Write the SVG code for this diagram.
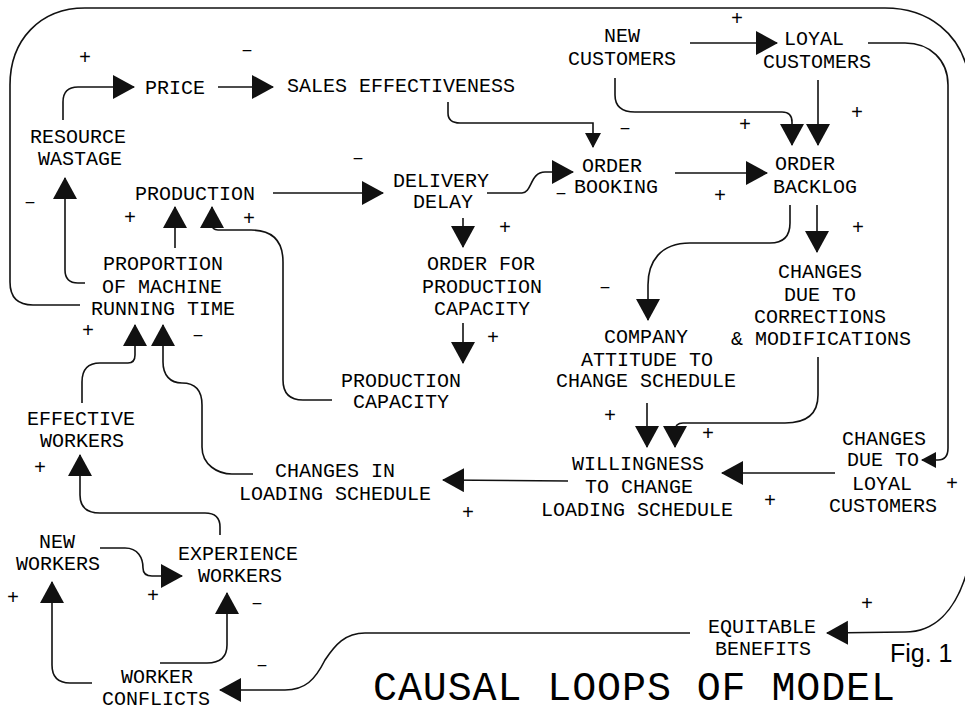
<svg xmlns="http://www.w3.org/2000/svg" width="965" height="711" viewBox="0 0 965 711">
<style>
  text { font-family: "Liberation Mono", "DejaVu Sans Mono", monospace; font-size: 20px; fill: #000; }
  .n text { text-anchor: middle; }
  .s { text-anchor: middle; font-size: 20px; }
  .c path { fill: none; stroke: #111; stroke-width: 1.6; marker-end: url(#ah); }
  .c path.sm { marker-end: url(#ahs); }
  .title { font-size: 40px; }
  .fig { font-family: "Liberation Sans", Arial, sans-serif; font-size: 25px; }
</style>
<defs>
  <marker id="ah" markerUnits="userSpaceOnUse" markerWidth="24" markerHeight="26" refX="21" refY="12" orient="auto" viewBox="0 0 24 26">
    <path d="M0,0 L22,12 L0,24 Z" fill="#111"/>
  </marker>
  <marker id="ahs" markerUnits="userSpaceOnUse" markerWidth="16" markerHeight="18" refX="14" refY="8" orient="auto" viewBox="0 0 16 18">
    <path d="M0,0 L15,8 L0,16 Z" fill="#111"/>
  </marker>
</defs>
<rect width="965" height="711" fill="#fff"/>

<g id="connectors" class="c">
  <path d="M63 120 L63 102 Q63 87 78 87 L134 87"/>
  <path d="M218 87 L273 87"/>
  <path d="M273 193 L383 193"/>
  <path d="M487 193 L522 193 C532 193 530 172 545 172 L573 172"/>
  <path class="sm" d="M448 102 L448 113 Q448 123 460 123 L593 123 L593 147"/>
  <path d="M615 78 L615 95 Q615 112 635 112 L782 112 Q792 112 792 122 L792 145"/>
  <path d="M818 80 L818 145"/>
  <path d="M690 43 L777 43"/>
  <path d="M675 173 L767 173"/>
  <path d="M790 205 L790 223 Q790 243 770 243 L690 243 C660 243 648 262 648 285 L648 320"/>
  <path d="M817 205 L817 252"/>
  <path d="M463 218 L463 247"/>
  <path d="M463 323 L463 363"/>
  <path d="M332 400 L303 400 Q283 400 283 380 L283 262 Q283 230 251 230 L218 230 Q212 230 212 224 L212 207"/>
  <path d="M175 248 L175 207"/>
  <path d="M85 283 L78 283 Q65 283 65 270 L65 178"/>
  <path d="M80 305 L33 305 Q10 305 10 282 L10 85 C10 40 40 8 85 8 L885 8 C930 8 960 35 968 72 L985 150 L985 500 L966 575 C955 610 935 632 905 632 L827 633"/>
  <path class="sm" d="M868 43 L905 43 C930 43 948 60 948 85 L948 448 Q948 460 938 460 L922 460"/>
  <path d="M835 473 L722 473"/>
  <path d="M647 403 L647 447"/>
  <path d="M818 357 L818 395 C818 415 805 423 785 423 L683 423 Q675 423 675 431 L675 447"/>
  <path d="M568 481 L443 480"/>
  <path d="M253 474 L232 474 C218 474 202 465 202 447 L202 405 C202 390 195 383 182 383 C170 383 163 375 163 362 L163 325"/>
  <path d="M82 403 L82 382 Q82 363 100 363 L128 363 Q135 363 135 355 L135 325"/>
  <path d="M220 535 L220 527 Q220 513 205 513 L100 513 Q80 513 80 495 L80 455"/>
  <path d="M100 548 L125 548 C138 548 143 558 143 568 Q143 576 152 576 L182 576"/>
  <path d="M92 683 L70 683 Q52 683 52 665 L52 582"/>
  <path d="M160 663 L207 663 Q227 663 227 645 L227 593"/>
  <path d="M690 633 L365 633 C345 633 335 645 325 660 C315 680 305 690 285 690 L220 690"/>
</g>

<g id="polarities">
  <text class="s" x="85" y="64">+</text>
  <text class="s" x="247" y="56">–</text>
  <text class="s" x="30" y="208">–</text>
  <text class="s" x="130" y="224">+</text>
  <text class="s" x="249" y="225">+</text>
  <text class="s" x="358" y="164">–</text>
  <text class="s" x="561" y="199">–</text>
  <text class="s" x="625" y="134">–</text>
  <text class="s" x="745" y="131">+</text>
  <text class="s" x="857" y="119">+</text>
  <text class="s" x="737" y="25">+</text>
  <text class="s" x="720" y="202">+</text>
  <text class="s" x="505" y="234">+</text>
  <text class="s" x="493" y="344">+</text>
  <text class="s" x="858" y="234">+</text>
  <text class="s" x="605" y="293">–</text>
  <text class="s" x="610" y="422">+</text>
  <text class="s" x="708" y="440">+</text>
  <text class="s" x="88" y="337">+</text>
  <text class="s" x="198" y="341">–</text>
  <text class="s" x="40" y="474">+</text>
  <text class="s" x="13" y="604">+</text>
  <text class="s" x="153" y="602">+</text>
  <text class="s" x="257" y="609">–</text>
  <text class="s" x="262" y="671">–</text>
  <text class="s" x="468" y="519">+</text>
  <text class="s" x="770" y="507">+</text>
  <text class="s" x="952" y="490">+</text>
  <text class="s" x="867" y="610">+</text>
</g>

<g id="price" class="n"><text x="175" y="94">PRICE</text></g>
<g id="sales-effectiveness" class="n"><text x="401" y="92">SALES EFFECTIVENESS</text></g>
<g id="resource-wastage" class="n"><text x="78" y="143">RESOURCE</text><text x="80" y="165">WASTAGE</text></g>
<g id="production" class="n"><text x="195" y="200">PRODUCTION</text></g>
<g id="delivery-delay" class="n"><text x="441" y="187">DELIVERY</text><text x="443" y="208">DELAY</text></g>
<g id="order-booking" class="n"><text x="612" y="172">ORDER</text><text x="616" y="193">BOOKING</text></g>
<g id="new-customers" class="n"><text x="622" y="42">NEW</text><text x="622" y="65">CUSTOMERS</text></g>
<g id="loyal-customers" class="n"><text x="814" y="45">LOYAL</text><text x="817" y="68">CUSTOMERS</text></g>
<g id="order-backlog" class="n"><text x="805" y="170">ORDER</text><text x="815" y="193">BACKLOG</text></g>
<g id="changes-corrections" class="n"><text x="820" y="278">CHANGES</text><text x="820" y="301">DUE TO</text><text x="820" y="323">CORRECTIONS</text><text x="821" y="345">&amp; MODIFICATIONS</text></g>
<g id="company-attitude" class="n"><text x="646" y="343">COMPANY</text><text x="647" y="366">ATTITUDE TO</text><text x="646" y="387">CHANGE SCHEDULE</text></g>
<g id="order-for-capacity" class="n"><text x="481" y="270">ORDER FOR</text><text x="482" y="293">PRODUCTION</text><text x="482" y="315">CAPACITY</text></g>
<g id="production-capacity" class="n"><text x="401" y="387">PRODUCTION</text><text x="401" y="408">CAPACITY</text></g>
<g id="machine-running-time" class="n"><text x="163" y="270">PROPORTION</text><text x="162" y="293">OF MACHINE</text><text x="163" y="315">RUNNING TIME</text></g>
<g id="effective-workers" class="n"><text x="81" y="425">EFFECTIVE</text><text x="82" y="447">WORKERS</text></g>
<g id="changes-loading" class="n"><text x="335" y="477">CHANGES IN</text><text x="335" y="500">LOADING SCHEDULE</text></g>
<g id="willingness" class="n"><text x="638" y="470">WILLINGNESS</text><text x="639" y="493">TO CHANGE</text><text x="637" y="516">LOADING SCHEDULE</text></g>
<g id="changes-loyal" class="n"><text x="884" y="445">CHANGES</text><text x="883" y="466">DUE TO</text><text x="882" y="490">LOYAL</text><text x="883" y="512">CUSTOMERS</text></g>
<g id="new-workers" class="n"><text x="57" y="548">NEW</text><text x="58" y="570">WORKERS</text></g>
<g id="experience-workers" class="n"><text x="238" y="560">EXPERIENCE</text><text x="240" y="582">WORKERS</text></g>
<g id="worker-conflicts" class="n"><text x="157" y="683">WORKER</text><text x="156" y="705">CONFLICTS</text></g>
<g id="equitable-benefits" class="n"><text x="762" y="633">EQUITABLE</text><text x="763" y="655">BENEFITS</text></g>

<g id="caption">
  <text class="title" x="373" y="700" textLength="522" lengthAdjust="spacing">CAUSAL LOOPS OF MODEL</text>
  <text class="fig" x="890" y="662">Fig. 1</text>
</g>
</svg>
